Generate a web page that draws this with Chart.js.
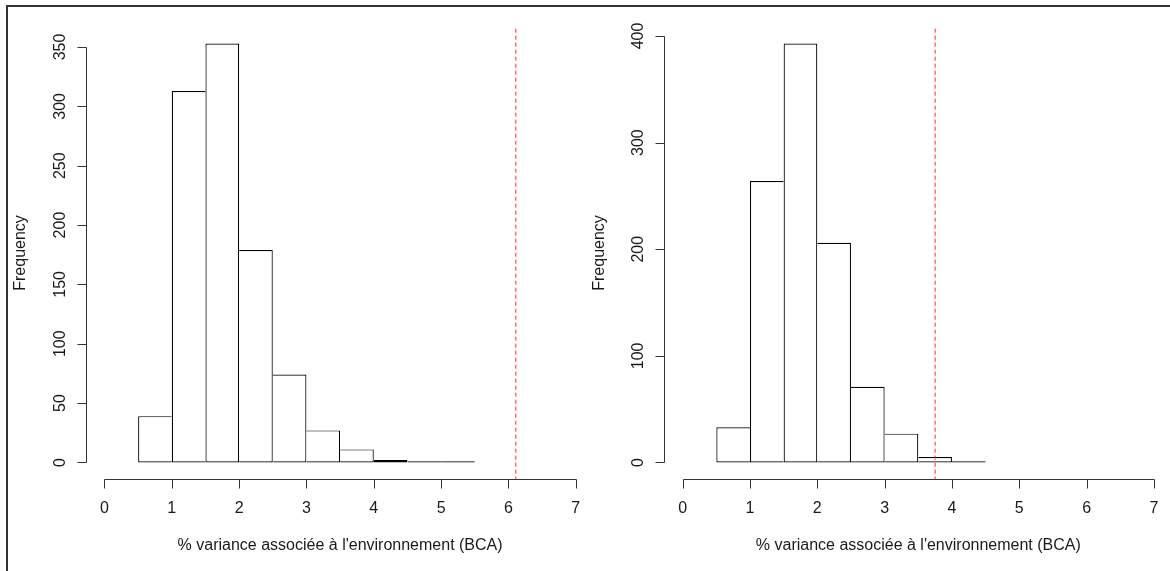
<!DOCTYPE html>
<html>
<head>
<meta charset="utf-8">
<script src="https://cdn.jsdelivr.net/npm/chart.js@4"></script>
<style>
html, body { margin:0; padding:0; background:#fff; overflow:hidden; }
#wrap { position:relative; width:1170px; height:571px; overflow:hidden; }
#frame { position:absolute; left:6px; top:5px; width:1200px; height:600px; border-left:2px solid #333; border-top:2px solid #333; }
canvas { position:absolute; left:0; top:0; }
</style>
</head>
<body>
<div id="wrap">
  <div id="frame"></div>
  <canvas id="left" width="1180" height="571"></canvas>
  <canvas id="right" width="1180" height="571"></canvas>
</div>
<script>
// histogram breaks and counts
var leftBreaks = [0.5, 1, 1.5, 2, 2.5, 3, 3.5, 4, 4.5, 5, 5.5];
var leftCounts = [39, 313, 353, 179, 74, 27, 11, 2, 1, 1];
var rightBreaks = [0.5, 1, 1.5, 2, 2.5, 3, 3.5, 4, 4.5];
var rightCounts = [33, 264, 393, 206, 71, 27, 5, 1];
var observed = [6.11, 3.75];          // red dashed line, one per panel
var xTicks = [0, 1, 2, 3, 4, 5, 6, 7];
var leftYTicks = [0, 50, 100, 150, 200, 250, 300, 350];
var rightYTicks = [0, 100, 200, 300, 400];
var xTitle = "% variance associée à l'environnement (BCA)";
var yTitle = "Frequency";

var FONT = '16px "Liberation Sans", Arial, Helvetica, sans-serif';
var PLOT_W = 509, PLOT_TOP = 26.7, PLOT_BOTTOM = 479.2;

// R style axes: detached, only spanning the tick range
var rAxes = {
  id: 'rAxes',
  afterDraw: function(chart, args, opts) {
    var ctx = chart.ctx, xs = chart.scales.x, ys = chart.scales.y, a = chart.chartArea;
    ctx.save();
    ctx.strokeStyle = '#333';
    ctx.lineWidth = 1;
    ctx.fillStyle = '#1a1a1a';
    ctx.font = FONT;

    // x axis
    var yb = Math.round(a.bottom) + 0.5;
    ctx.beginPath();
    ctx.moveTo(Math.round(xs.getPixelForValue(xTicks[0])) + 0.5, yb);
    ctx.lineTo(Math.round(xs.getPixelForValue(xTicks[xTicks.length - 1])) + 0.5, yb);
    xTicks.forEach(function(t) {
      var px = Math.round(xs.getPixelForValue(t)) + 0.5;
      ctx.moveTo(px, yb);
      ctx.lineTo(px, yb + 9);
    });
    ctx.stroke();
    ctx.textAlign = 'center';
    ctx.textBaseline = 'alphabetic';
    xTicks.forEach(function(t) {
      ctx.fillText(String(t), xs.getPixelForValue(t), a.bottom + 34);
    });
    ctx.fillText(xTitle, (a.left + a.right) / 2, a.bottom + 70.3);

    // y axis
    var yt = opts.yTicks;
    var xl = Math.round(a.left) + 0.5;
    ctx.beginPath();
    ctx.moveTo(xl, Math.round(ys.getPixelForValue(yt[0])) + 0.5);
    ctx.lineTo(xl, Math.round(ys.getPixelForValue(yt[yt.length - 1])) + 0.5);
    yt.forEach(function(t) {
      var py = Math.round(ys.getPixelForValue(t)) + 0.5;
      ctx.moveTo(xl, py);
      ctx.lineTo(xl - 9, py);
    });
    ctx.stroke();
    yt.forEach(function(t) {
      ctx.save();
      ctx.translate(a.left - 20.8, ys.getPixelForValue(t));
      ctx.rotate(-Math.PI / 2);
      ctx.fillText(String(t), 0, 0);
      ctx.restore();
    });
    ctx.save();
    ctx.translate(a.left - 60.3, (a.top + a.bottom) / 2);
    ctx.rotate(-Math.PI / 2);
    ctx.fillText(yTitle, 0, 0);
    ctx.restore();

    // observed value
    var ox = xs.getPixelForValue(opts.observed);
    ctx.strokeStyle = 'rgb(255,40,40)';
    ctx.setLineDash([4, 3]);
    ctx.beginPath();
    ctx.moveTo(ox, a.top + 2);
    ctx.lineTo(ox, a.bottom);
    ctx.stroke();
    ctx.restore();
  }
};

function makeHist(id, breaks, counts, yTicks, obs, plotLeft) {
  var pts = counts.map(function(c, i) {
    return { x: (breaks[i] + breaks[i + 1]) / 2, y: c };
  });
  var ymax = Math.max.apply(null, counts);
  var xspan = xTicks[xTicks.length - 1] - xTicks[0];
  var last = counts.length - 1;
  var canvas = document.getElementById(id);
  return new Chart(canvas.getContext('2d'), {
    type: 'bar',
    data: {
      datasets: [{
        data: pts,
        backgroundColor: '#fff',
        borderColor: '#000',
        borderSkipped: false,
        inflateAmount: 0,
        barPercentage: 1,
        categoryPercentage: 1,
        // shared edges drawn once, by the taller of the two bars
        borderWidth: function(c) {
          var i = c.dataIndex;
          return {
            top: 1.2, bottom: 1.2,
            left: (i === 0 || counts[i - 1] <= counts[i]) ? 1.2 : 0,
            right: (i === last || counts[i + 1] < counts[i]) ? 1.2 : 0
          };
        }
      }]
    },
    options: {
      responsive: false,
      animation: false,
      events: [],
      layout: {
        padding: {
          left: plotLeft,
          right: canvas.width - plotLeft - PLOT_W,
          top: PLOT_TOP,
          bottom: canvas.height - PLOT_BOTTOM
        }
      },
      scales: {
        x: { type: 'linear', display: false, offset: false,
             min: xTicks[0] - 0.04 * xspan, max: xTicks[xTicks.length - 1] + 0.04 * xspan },
        y: { display: false, min: -0.04 * ymax, max: 1.04 * ymax }
      },
      plugins: {
        legend: { display: false },
        tooltip: { enabled: false },
        rAxes: { yTicks: yTicks, observed: obs }
      }
    },
    plugins: [rAxes]
  });
}

makeHist('left', leftBreaks, leftCounts, leftYTicks, observed[0], 85.6);
makeHist('right', rightBreaks, rightCounts, rightYTicks, observed[1], 663.8);
</script>
</body>
</html>
